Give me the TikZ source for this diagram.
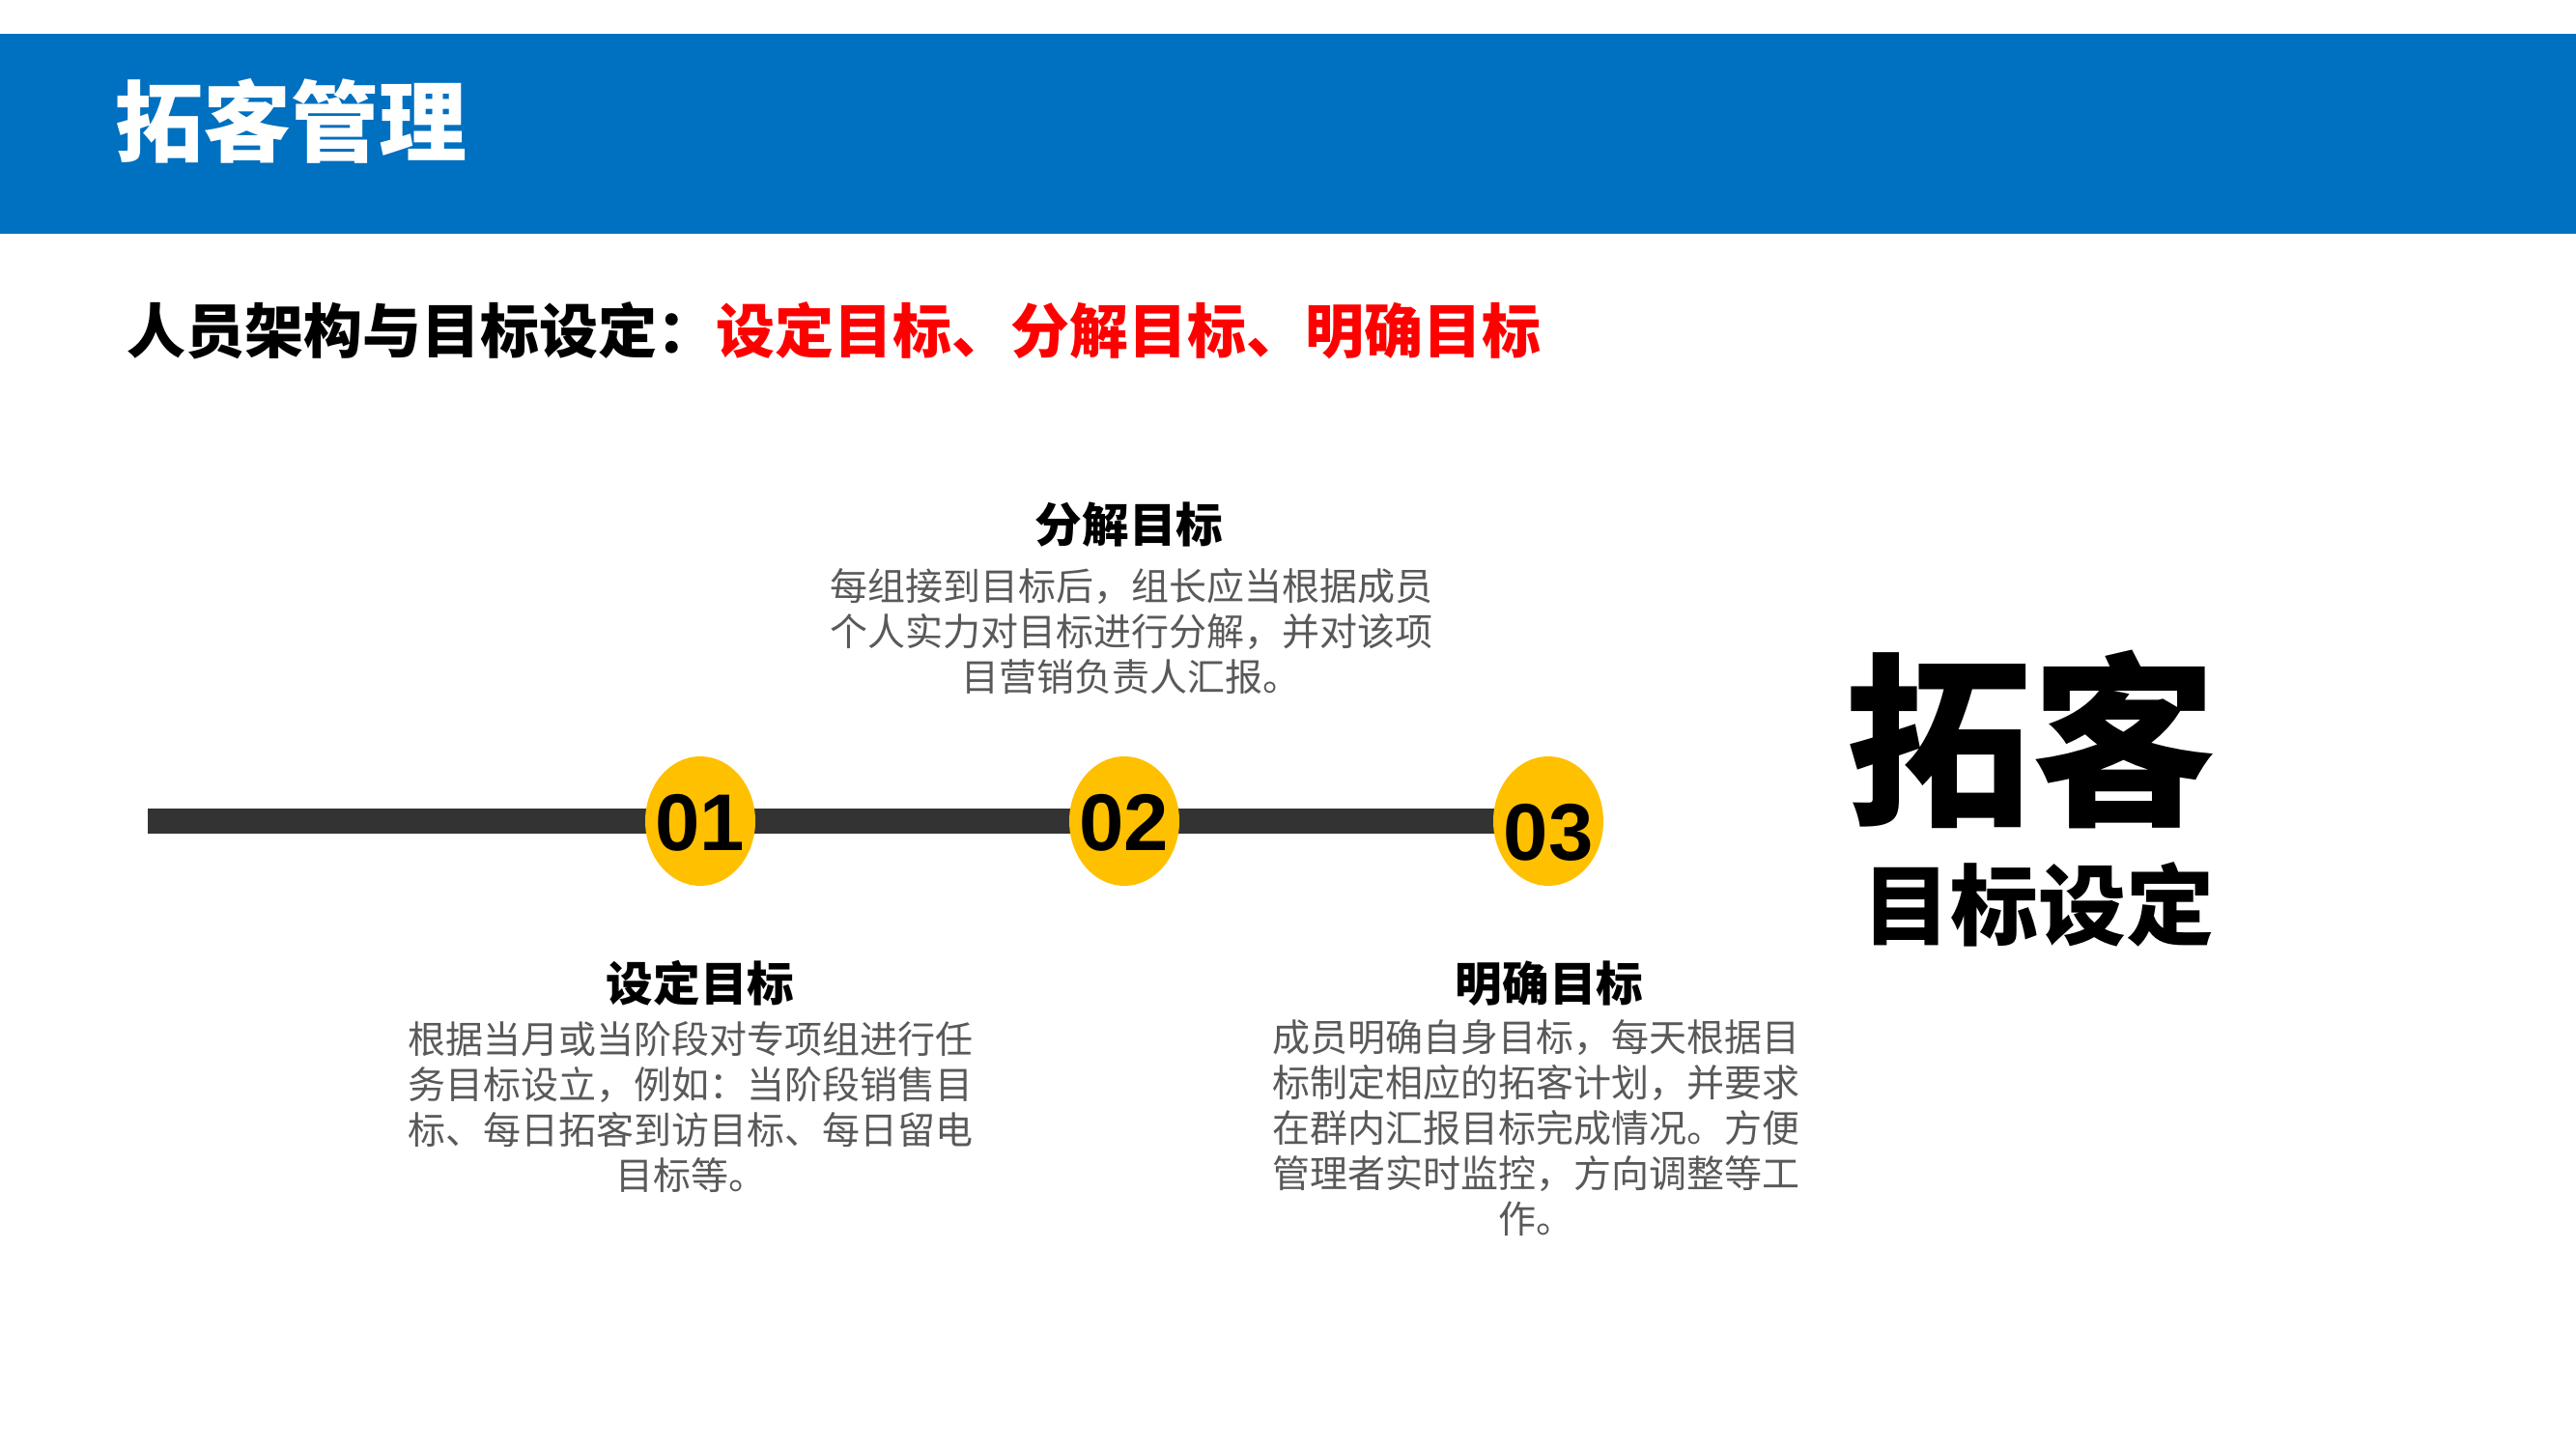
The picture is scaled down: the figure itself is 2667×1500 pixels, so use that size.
\documentclass[tikz,border=0pt]{standalone}
\usepackage{fontspec}
\setmainfont{Noto Sans CJK SC}
\newfontfamily\numfont{Liberation Sans}
\usetikzlibrary{shapes.geometric,backgrounds}
\definecolor{bandblue}{HTML}{0070C0}
\definecolor{gold}{HTML}{FFC000}
\definecolor{bargray}{HTML}{333333}
\definecolor{bodygray}{HTML}{595959}
\definecolor{hired}{HTML}{FF0000}
\begin{document}
\begin{tikzpicture}[x=0.3pt,y=-0.3pt,
  band/.style={fill=bandblue, draw=none},
  dot/.style={ellipse, fill=gold, draw=none, minimum width=34.2pt, minimum height=40.2pt, inner sep=0pt},
  num/.style={font=\numfont\bfseries\fontsize{25}{25}\selectfont, text=black, inner sep=0pt},
  heading/.style={font=\bfseries\fontsize{14.6}{17}\selectfont, text=black, inner sep=0pt},
  body/.style={font=\fontsize{11.7}{14.1}\selectfont, text=bodygray, align=center, inner sep=0pt},
  bar/.style={draw=bargray, line width=7.8pt},
  big/.style={font=\bfseries\fontsize{57.5}{60}\selectfont, text=black, inner sep=0pt},
  mid/.style={font=\bfseries\fontsize{27.3}{30}\selectfont, text=black, inner sep=0pt}]
\useasboundingbox (0,0) rectangle (2667,1500);
\path[band] (0,35) rectangle (2667,242);
\node[anchor=west, inner sep=0pt, text=white, font=\bfseries\fontsize{27.3}{30}\selectfont] (title) at (119,125) {拓客管理};
\node[anchor=west, inner sep=0pt, font=\bfseries\fontsize{18.3}{22}\selectfont] (sub) at (131,342) {人员架构与目标设定：\textcolor{hired}{设定目标、分解目标、明确目标}};

\coordinate (start) at (153,850);
\node[dot] (c1) at (725,850) {};
\node[dot] (c2) at (1164,850) {};
\node[dot] (c3) at (1603,850) {};
\begin{scope}[on background layer]
\draw[bar] (start) -- (c3.center);
\end{scope}
\node[num] (n1) at (725,852) {01};
\node[num] (n2) at (1164,852) {02};
\node[num] (n3) at (1603,862) {03};

\node[heading] (h2) at (1169,543) {分解目标};
\node[body] (b2) at (1171,654) {每组接到目标后，组长应当根据成员\\个人实力对目标进行分解，并对该项\\目营销负责人汇报。};

\node[heading] (h1) at (725,1018) {设定目标};
\node[body] (b1) at (715,1146) {根据当月或当阶段对专项组进行任\\务目标设立，例如：当阶段销售目\\标、每日拓客到访目标、每日留电\\目标等。};

\node[heading] (h3) at (1604,1018) {明确目标};
\node[body] (b3) at (1590,1168) {成员明确自身目标，每天根据目\\标制定相应的拓客计划，并要求\\在群内汇报目标完成情况。方便\\管理者实时监控，方向调整等工\\作。};

\node[big] (bigt) at (2103,765) {拓客};
\node[mid] (midt) at (2110,936) {目标设定};
\end{tikzpicture}
\end{document}
